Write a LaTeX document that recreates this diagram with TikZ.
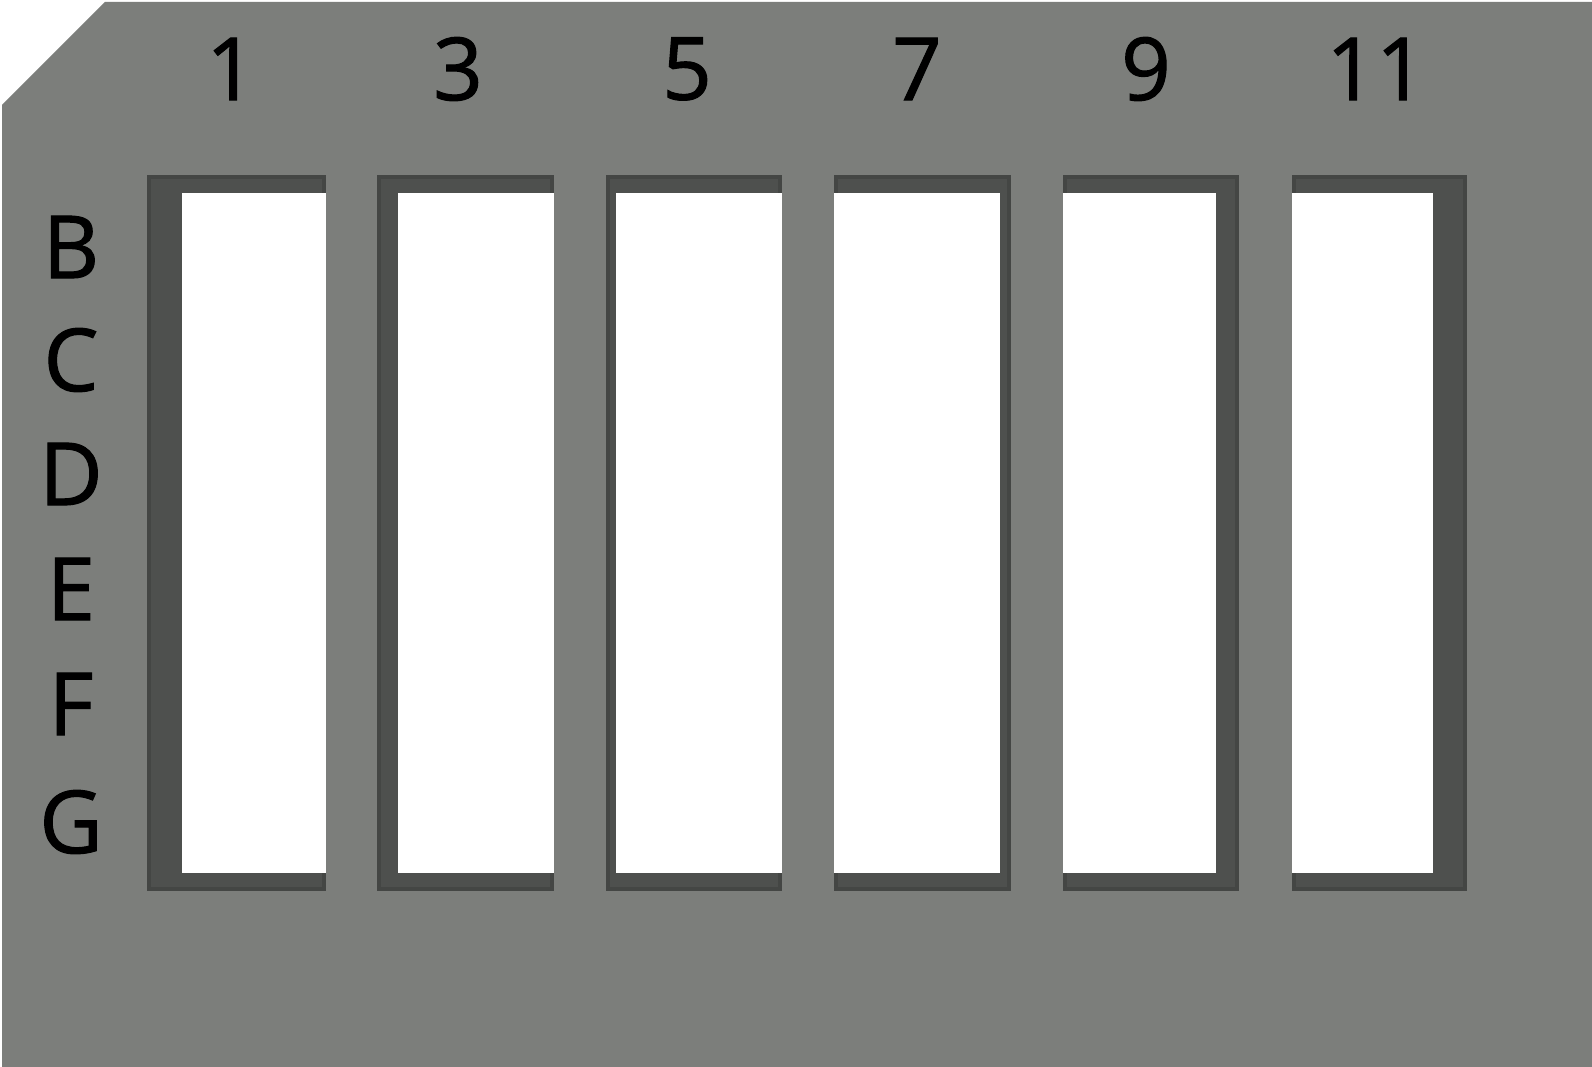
\documentclass[tikz,border=0pt]{standalone}
\usepackage{fontspec}
\setmainfont[FakeBold=1.2]{Open Sans}
\definecolor{plate}{RGB}{124,126,123}
\definecolor{shadowdark}{RGB}{68,70,68}
\definecolor{shadowmid}{RGB}{78,80,78}
\tikzset{
  lbl/.style={inner sep=0pt, font=\fontsize{87}{87}\selectfont, text=black},
  hole/.style={fill=white},
}
\begin{document}
\begin{tikzpicture}[x=1pt,y=-1pt]
\useasboundingbox (0,0) rectangle (1592,1067);
\fill[white] (0,0) rectangle (1592,1067);
\fill[plate] (2,105) -- (105,2) -- (1592,2) -- (1592,1067) -- (2,1067) -- cycle;
% slots: outer left, outer right, white left, white right
\foreach \sxa/\sxb/\sxc/\sxd in {147/326/182/326, 377/554/398/554, 606/782/616/782, 834/1011/834/1000, 1063/1239/1063/1216, 1292/1467/1292/1433}{
  \fill[shadowdark] (\sxa,175) rectangle (\sxb,891);
  \fill[shadowmid] (\sxa+4,179) rectangle (\sxb-4,887);
  \fill[hole] (\sxc,193) rectangle (\sxd,873);
}
\node[lbl] (n1) at (231,69) {1};
\node[lbl] (n3) at (458,69) {3};
\node[lbl] (n5) at (687,69) {5};
\node[lbl] (n7) at (917,69) {7};
\node[lbl] (n9) at (1146,69) {9};
\node[lbl] (n11) at (1376,69) {11};
\node[lbl] (rB) at (71,247) {B};
\node[lbl] (rC) at (71,360) {C};
\node[lbl] (rD) at (71,474) {D};
\node[lbl] (rE) at (71,589) {E};
\node[lbl] (rF) at (71,704) {F};
\node[lbl] (rG) at (71,822) {G};
\end{tikzpicture}
\end{document}
